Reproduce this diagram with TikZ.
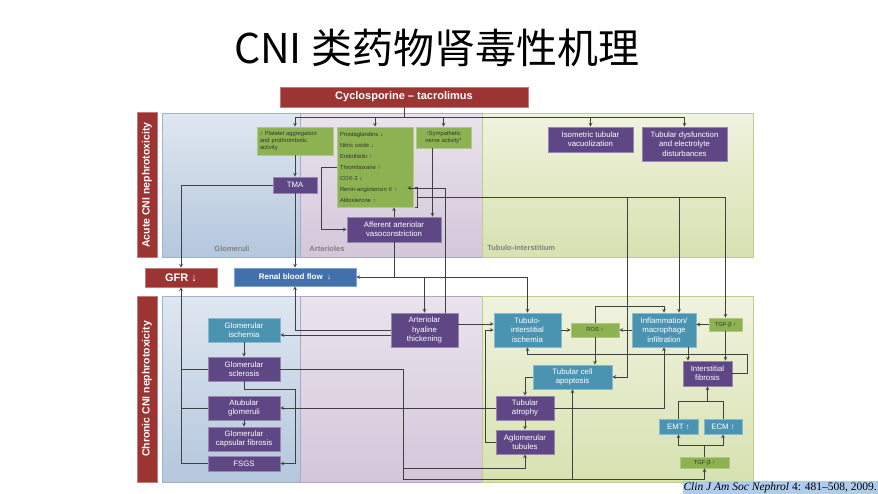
\documentclass[tikz,border=0pt]{standalone}
\usepackage{fontspec}
\setmainfont{Liberation Sans}
\newfontfamily\cjk{Noto Sans CJK SC}
\newfontfamily\citefont{Liberation Serif}
\definecolor{cred}{HTML}{9C3434}
\definecolor{cpurple}{HTML}{5E4784}
\definecolor{cteal}{HTML}{4A94B1}
\definecolor{cgreen}{HTML}{8CB251}
\definecolor{cblue}{HTML}{4270AC}
\definecolor{chl}{HTML}{AFCDEB}
\definecolor{glomtop}{HTML}{DFE7F0}
\definecolor{glombot}{HTML}{B4C7DD}
\definecolor{glomline}{HTML}{9DB3CF}
\definecolor{arttop}{HTML}{EAE3EC}
\definecolor{artbot}{HTML}{D3C7DA}
\definecolor{artline}{HTML}{B1A3C3}
\definecolor{tubtop}{HTML}{F0F3DF}
\definecolor{tubbot}{HTML}{D7E1B0}
\definecolor{tubline}{HTML}{BCCF8E}
\begin{document}
\begin{tikzpicture}[x=1pt,y=-1pt,>=stealth,line width=0.7pt,
		every node/.style={inner sep=0pt,align=center},
		box/.style={draw=#1!65!white,fill=#1,text=white,font=\fontsize{7.8}{9.3}\selectfont},
		pbox/.style={box=cpurple},
		tbox/.style={box=cteal},
		gbox/.style={draw=cgreen!70!white,fill=cgreen,text=black!80,font=\fontsize{5.8}{7.4}\selectfont},
		rbox/.style={box=cred,font=\bfseries\fontsize{11}{13}\selectfont},
		area/.style={text=black!50,font=\bfseries\fontsize{7.5}{9}\selectfont}]
	\useasboundingbox (0,0) rectangle (878,493);
	\node[font=\cjk\fontsize{41}{45}\selectfont] (title) at (436.5,48) {CNI 类药物肾毒性机理};
	% panels
	\foreach \ya/\yb in {113/257,296/482}{
		\draw[draw=glomline,top color=glomtop,bottom color=glombot] (162,\ya) rectangle (300,\yb);
		\draw[draw=artline,top color=arttop,bottom color=artbot] (300,\ya) rectangle (482,\yb);
		\draw[draw=tubline,top color=tubtop,bottom color=tubbot] (482,\ya) rectangle (753,\yb);
	}
	\node[area] (glab) at (232,249) {Glomeruli};
	\node[area] (alab) at (327,249) {Arterioles};
	\node[area,anchor=west] (tlab) at (487,248) {Tubulo-interstitium};
	\node[rbox,rotate=90,minimum width=145pt,minimum height=20pt,font=\bfseries\fontsize{10.5}{12}\selectfont] (acute) at (147,185) {Acute CNI nephrotoxicity};
	\node[rbox,rotate=90,minimum width=186pt,minimum height=20pt,font=\bfseries\fontsize{10.5}{12}\selectfont] (chronic) at (147,389) {Chronic CNI nephrotoxicity};
	% acute
	\node[rbox,minimum width=248pt,minimum height=20pt] (cyc) at (404,97) {Cyclosporine – tacrolimus};
	\node[gbox,minimum width=76pt,minimum height=28pt,text width=70pt,align=left] (plat) at (295,141) {↑ Platelet aggregation\\and prothrombotic\\activity};
	\node[gbox,minimum width=76pt,minimum height=80pt,text width=70pt,align=left,font=\fontsize{5.8}{11}\selectfont] (list) at (375,167) {Prostaglandins ↓\\Nitric oxide ↓\\Endothelin ↑\\Thromboxane ↑\\COX-2 ↓\\Renin-angiotensin II ↑\\Aldosterone ↑};
	\node[gbox,minimum width=55pt,minimum height=21pt] (symp) at (443.5,137.5) {↑Sympathetic\\nerve activity*};
	\node[pbox,minimum width=44pt,minimum height=16pt] (tma) at (295,185) {TMA};
	\node[pbox,minimum width=94pt,minimum height=25pt] (aff) at (394,229.5) {Afferent arteriolar\\vasoconstriction};
	\node[pbox,minimum width=85pt,minimum height=25pt] (iso) at (590.5,139.5) {Isometric tubular\\vacuolization};
	\node[pbox,minimum width=85pt,minimum height=34pt] (tdys) at (684.5,144) {Tubular dysfunction\\and electrolyte\\disturbances};
	\node[rbox,minimum width=72pt,minimum height=19pt] (gfr) at (181,277.5) {GFR ↓};
	\node[box=cblue,minimum width=122pt,minimum height=18pt,font=\bfseries\fontsize{8}{9}\selectfont] (rbf) at (295,277) {Renal blood flow \ ↓};
	% chronic
	\node[tbox,minimum width=72pt,minimum height=24pt] (gisch) at (244,330) {Glomerular\\ischemia};
	\node[pbox,minimum width=72pt,minimum height=24pt] (gscl) at (244,369) {Glomerular\\sclerosis};
	\node[pbox,minimum width=72pt,minimum height=24pt] (atub) at (244,408) {Atubular\\glomeruli};
	\node[pbox,minimum width=72pt,minimum height=24pt] (gcap) at (244,439) {Glomerular\\capsular fibrosis};
	\node[pbox,minimum width=72pt,minimum height=15pt] (fsgs) at (244,463.5) {FSGS};
	\node[pbox,minimum width=67pt,minimum height=34pt] (aht) at (424.5,330) {Arteriolar\\hyaline\\thickening};
	\node[tbox,minimum width=67pt,minimum height=34pt] (tii) at (527.5,330) {Tubulo-\\interstitial\\ischemia};
	\node[gbox,minimum width=48pt,minimum height=14pt] (ros) at (595,330) {ROS ↑};
	\node[tbox,minimum width=64pt,minimum height=34pt] (infl) at (664,330) {Inflammation/\\macrophage\\infiltration};
	\node[gbox,minimum width=33pt,minimum height=13pt] (tgfa) at (725.5,324.5) {TGF-β ↑};
	\node[tbox,minimum width=79pt,minimum height=24pt] (tca) at (572.5,377) {Tubular cell\\apoptosis};
	\node[pbox,minimum width=49pt,minimum height=25pt] (ifib) at (707.5,373.5) {Interstitial\\fibrosis};
	\node[pbox,minimum width=58pt,minimum height=24pt] (tatr) at (525,408) {Tubular\\atrophy};
	\node[pbox,minimum width=58pt,minimum height=24pt] (aglo) at (525,442) {Aglomerular\\tubules};
	\node[tbox,minimum width=39pt,minimum height=15pt] (emt) at (678.5,426.5) {EMT ↑};
	\node[tbox,minimum width=38pt,minimum height=15pt] (ecm) at (723,426.5) {ECM ↑};
	\node[gbox,minimum width=49pt,minimum height=11pt] (tgfb) at (704.5,462.5) {TGF-β ↑};
	\node[anchor=east,fill=chl,inner xsep=1pt,inner ysep=1pt,font=\citefont\fontsize{11.5}{12}\selectfont] (cite) at (878,487.5) {\textit{Clin J Am Soc Nephrol} 4: 481–508, 2009.};
	\begin{scope}[black!75]
		% acute links
		\coordinate (bus) at (404,117);
		\draw (cyc.south) -- (bus);
		\draw (bus -| plat.north) -- (bus -| tdys.north);
		\foreach \n in {plat,list,symp,iso,tdys}
			\draw[->] (bus -| \n.north) -- (\n.north);
		\draw[->] (plat) -- (tma);
		\draw[->] (tma.west) -| (gfr.north);
		\draw[->] (tma) -- (rbf);
		\draw[->] (list.west) -- ++(-15,0) |- (aff.west);
		\coordinate (symd) at ([xshift=-11pt]symp.south);
		\draw[->] (symd) -- (symd |- aff.north);
		\draw[->] (aff.north) -- (aff.north |- list.south);
		\coordinate (ahtn) at ([xshift=20.5pt]aht.north);
		\coordinate (ren) at ([xshift=-6pt,yshift=-21pt]list.east);
		\draw[->] (ahtn) |- (ren);
		\draw ([xshift=2pt,yshift=-20pt]list.east) -- ++(2,0) -- ++(0,20) -- ++(-2,0);
		\coordinate (raas) at ([xshift=4pt,yshift=-30pt]list.east);
		\draw[->] (raas) -| (tgfa.north);
		\coordinate (infn) at ([xshift=15pt]infl.north);
		\draw[->] (raas -| infn) -- (infn);
		\coordinate (tcae) at ([xshift=15pt]tca.east);
		\draw[->] (raas -| tcae) |- (tca.east);
		\coordinate (rj) at (aff.south |- rbf.east);
		\draw (aff.south) -- (rj);
		\draw[->] (rj) -- (rbf.east);
		\draw[->] (rj) -| (tii.north);
		\draw[->] (rj -| aht.north) -- (aht.north);
		% chronic links
		\draw[->] ([yshift=-5pt]aht.west) -- ([yshift=-5pt]aht.west -| gisch.east);
		\draw[->] (aht.west) -| (rbf.south);
		\draw[->] ([yshift=6pt]aht.east) -- ([yshift=6pt]aht.east -| tii.west);
		\draw[->] (aglo.west) -- ++(-10,0) |- (tii.west);
		\draw[->] (gisch) -- (gscl);
		\draw[->] (gscl.south) -- ++(0,8) -- ++(51,0) |- (fsgs.east);
		\draw[->] (atub) -- (gcap);
		\draw[->] (fsgs.west) -| (gfr.south);
		\draw (atub.west) -- (atub.west -| gfr.south);
		\draw (gscl.west) -- (gscl.west -| gfr.south);
		\coordinate (base) at (403,479);
		\coordinate (sj) at (403,468);
		\draw (gscl.east) -| (base);
		\draw[->] (sj) -| (aglo.south);
		\draw[->] (base) -| (tgfb.south);
		\draw[->] (base -| tca.south) -- (tca.south);
		\draw[->] (tatr.west) -- (atub.east);
		\draw[->] (tatr.east) -| (infl.south);
		\draw[->] (tca.west) -| (tatr.north);
		\draw[->] (tatr) -- (aglo);
		\draw[->] (tii.east) -- (ros.west);
		\draw[->] (infl.west) -- (ros.east);
		\draw[->] (tgfa.west) -- (tgfa.west -| infl.east);
		\draw[->] (ros.north) -- ++(0,-16) -| (infl.north);
		\draw[->] (ros.south) -- (ros.south |- tca.north);
		\coordinate (infs) at ([xshift=24pt]infl.south);
		\draw[->] (infs) -- (infs |- ifib.north);
		\draw[->] (tgfa.south) -- (tgfa.south |- ifib.north);
		\draw[->] (ifib.east) -- ++(15,0) -- ++(0,-19.5) -| (tii.south);
		\draw (emt.north) -- ++(0,-17) coordinate (ej) -| (ecm.north);
		\draw[->] (ej -| ifib.south) -- (ifib.south);
		\draw (tgfb.north) -- ++(0,-11) coordinate (tj);
		\draw[->] (tj) -| (emt.south);
		\draw[->] (tj) -| (ecm.south);
	\end{scope}
\end{tikzpicture}
\end{document}
